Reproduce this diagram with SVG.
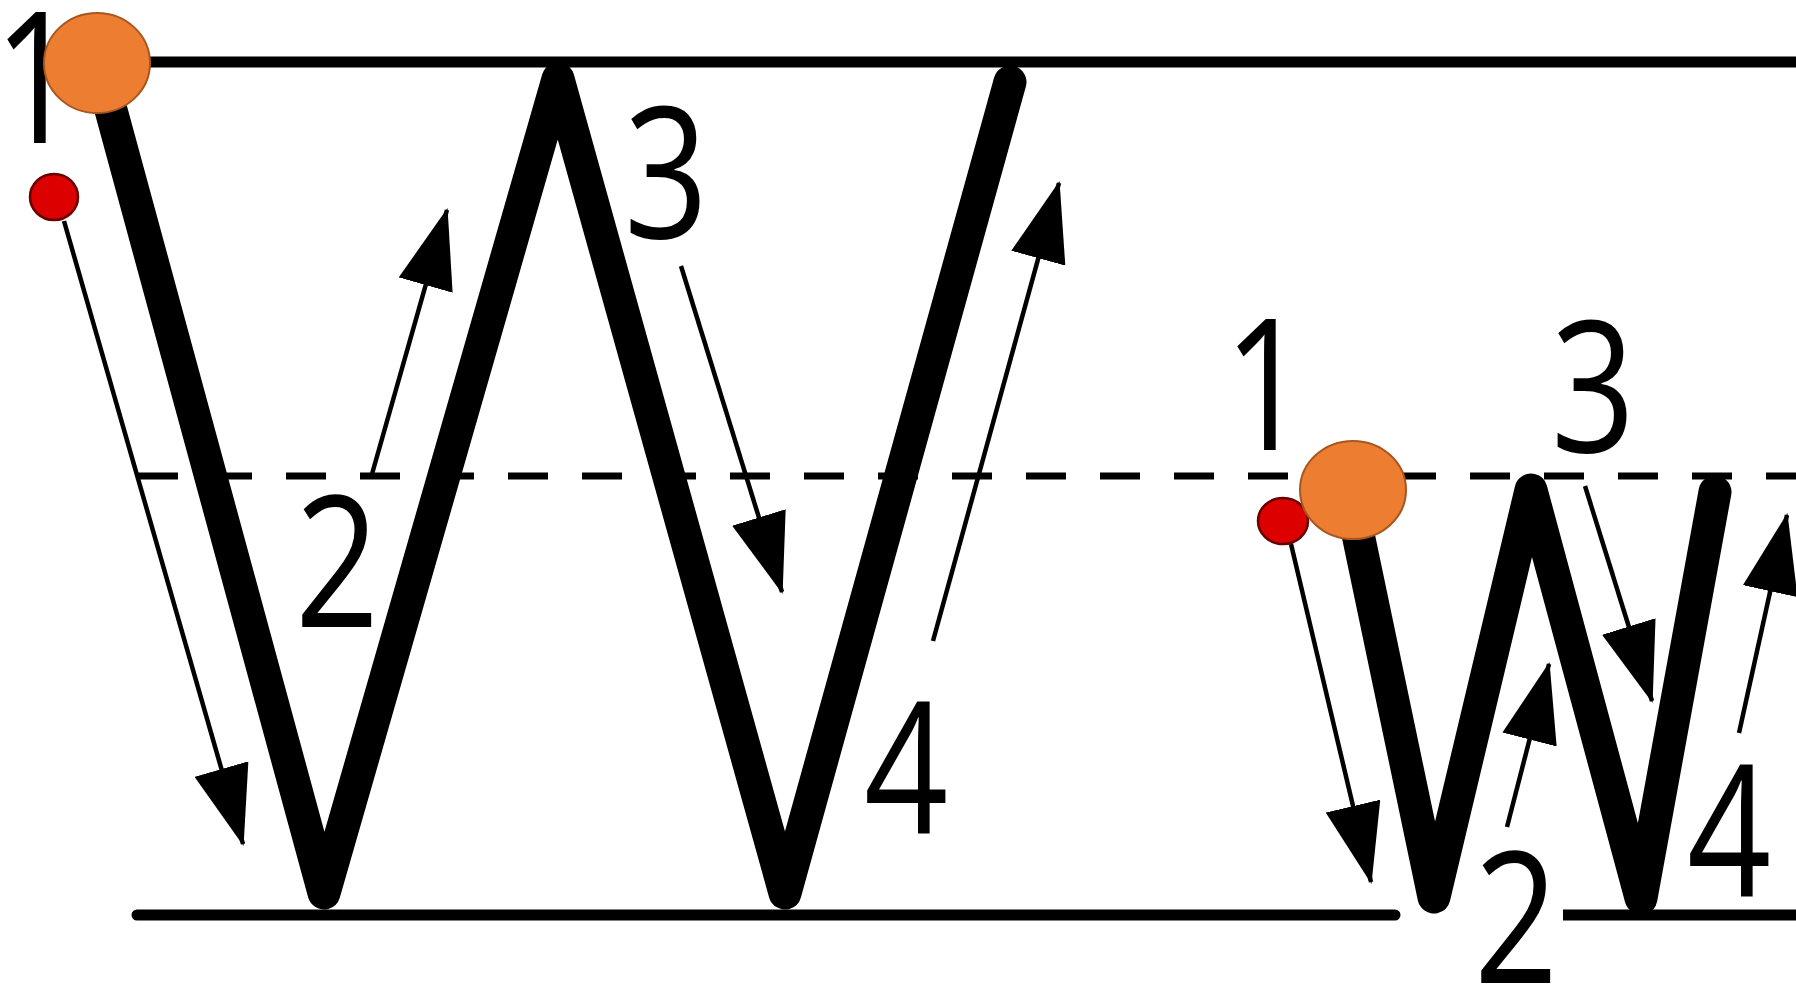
<svg xmlns="http://www.w3.org/2000/svg" width="1796" height="992" viewBox="0 0 1796 992">
<style>
.guide{stroke:#000;stroke-width:11;fill:none}
.dash{stroke:#000;stroke-width:7;stroke-dasharray:40 34;fill:none}
.w{stroke:#000;stroke-width:33;fill:none;stroke-linejoin:round;stroke-linecap:round}
.arr{stroke:#000;stroke-width:4.5;fill:none;marker-end:url(#ah)}
.num{font-family:"Open Sans","Liberation Sans",sans-serif;font-size:184px;fill:#000;text-anchor:middle}
.orange{fill:#ED7D31;stroke:#A8561F;stroke-width:2}
.red{fill:#DD0000;stroke:#6A0000;stroke-width:2.5}
</style>
<defs>
<marker id="ah" markerUnits="userSpaceOnUse" markerWidth="80" markerHeight="56" viewBox="0 0 80 56" refX="78" refY="28" orient="auto">
<path d="M0,0 L80,28 L0,56 z" fill="#000"/>
</marker>
</defs>
<rect width="1796" height="992" fill="#fff"/>
<g id="guides">
<line class="guide" x1="130" y1="62" x2="1796" y2="62"/>
<line class="dash" x1="138" y1="476" x2="1796" y2="476"/>
<line class="guide" x1="137" y1="915" x2="1395" y2="915" stroke-linecap="round"/>
<line class="guide" x1="1563" y1="915" x2="1796" y2="915"/>
</g>
<g id="big-w">
<polyline class="w" points="105,88 324,893 558,79 785,893 1010,82"/>
</g>
<g id="small-w">
<polyline class="w" points="1354,515 1434,897 1531,490 1641,898 1715,492"/>
</g>
<g id="connectors">
<line class="arr" x1="64" y1="221" x2="243" y2="844"/>
<line class="arr" x1="372" y1="474" x2="447" y2="210"/>
<line class="arr" x1="681" y1="266" x2="782" y2="592"/>
<line class="arr" x1="933" y1="641" x2="1059" y2="183"/>
<line class="arr" x1="1291" y1="544" x2="1371" y2="882"/>
<line class="arr" x1="1507" y1="827" x2="1549" y2="664"/>
<line class="arr" x1="1585" y1="486" x2="1652" y2="701"/>
<line class="arr" x1="1739" y1="733" x2="1787" y2="515"/>
</g>
<g id="labels">
<text class="num" transform="translate(36,143) scale(0.8,1)">1</text>
<text class="num" transform="translate(337,627) scale(0.8,1)">2</text>
<text class="num" transform="translate(666,238) scale(0.8,1)">3</text>
<text class="num" transform="translate(906,833) scale(0.8,1)">4</text>
<text class="num" transform="translate(1266,450) scale(0.8,1)">1</text>
<text class="num" transform="translate(1516,983) scale(0.8,1)">2</text>
<text class="num" transform="translate(1593,452) scale(0.8,1)">3</text>
<text class="num" transform="translate(1729,896) scale(0.8,1)">4</text>
</g>
<g id="start-big">
<ellipse class="red" cx="54" cy="197" rx="24" ry="23"/>
<ellipse class="orange" cx="97" cy="63" rx="53" ry="50"/>
</g>
<g id="start-small">
<ellipse class="red" cx="1283" cy="521" rx="25" ry="23"/>
<ellipse class="orange" cx="1353" cy="490" rx="53" ry="49"/>
</g>
</svg>
